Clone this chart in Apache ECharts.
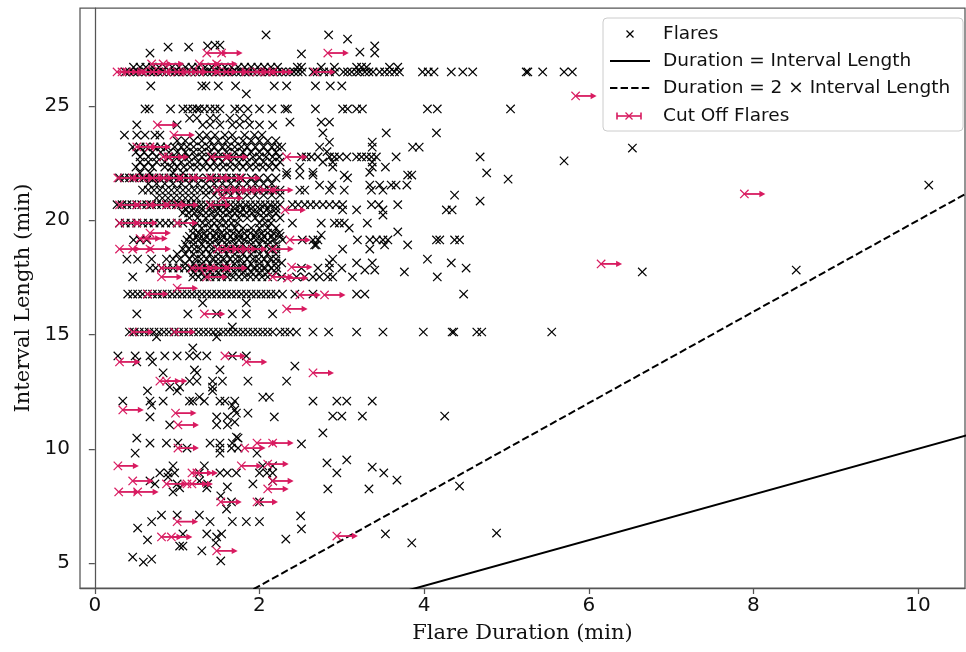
<!DOCTYPE html>
<html>
<head>
<meta charset="utf-8">
<script src="https://cdn.jsdelivr.net/npm/echarts@6/dist/echarts.min.js"></script>
<style>
html, body { margin: 0; padding: 0; background: #fff; }
#chart { width: 966px; height: 652px; }
</style>
</head>
<body>
<div id="chart"></div>
<script>
// Flare durations (min) grouped by the interval length (min) they were observed in.
const band2649 = [0.37,0.42,0.47,0.52,0.57,0.62,0.67,0.72,0.77,0.82,0.87,0.92,0.97,1.02,1.07,1.12,1.17,1.22,1.27,1.32,1.37,1.42,1.47,1.52,1.57,1.62,1.67,1.72,1.77,1.82,1.87,1.92,1.97,2.02,2.07,2.12,2.17,2.22,2.27,2.32,2.37,2.42,2.47,2.52,2.65,2.7,2.78,2.85,2.92,3.02,3.07,3.12,3.18,3.22,3.28,3.33,3.38,3.46,3.52,3.58,3.64,3.7,3.98,4.05,4.12,4.33,4.47,4.59,5.24,5.26,5.44,5.70,5.80];
const band2670 = [0.47,0.55,0.62,0.7,0.78,0.86,0.94,1.02,1.1,1.18,1.26,1.34,1.42,1.5,1.58,1.66,1.74,1.82,1.9,1.98,2.06,2.14,2.22,2.46,2.51,2.75,2.91,3.18,3.24,3.3,3.58,3.68];
const band2487 = [0.61,0.66,0.92,1.07,1.13,1.19,1.24,1.27,1.33,1.40,1.46,1.52,1.70,1.76,1.86,2.0,2.15,2.31,2.34,2.68,3.01,3.07,3.18,3.25,4.04,4.16,5.05];
const band2348 = [1.0,1.1,1.2,1.3,1.4,1.5,1.6,1.7,1.8,1.9,2.0,2.1,2.2];
const band2321 = [0.46,0.55,0.62,0.72,0.8,0.88,0.97,1.05,1.12,1.2,1.3,1.38,1.45,1.55,1.62,1.7,1.78,1.85,1.95,2.05,2.15,2.22];
const band2298 = [0.5,0.6,0.7,0.8,0.9,1.0,1.1,1.2,1.3,1.4,1.5,1.6,1.7,1.8,1.9,2.0,2.1,2.2];
const band2277 = [0.55,0.65,0.75,0.9,0.98,1.06,1.14,1.22,1.3,1.4,1.5,1.6,1.68,1.76,1.84,1.92,2.0,2.08,2.16,2.24,2.51,2.57,2.63,2.71,2.85,2.91,2.97,3.06,3.18,3.24,3.3,3.36,3.42,3.66,4.68];
const band2255 = [0.55,0.65,0.75,0.85,0.95,1.05,1.15,1.25,1.35,1.45,1.55,1.65,1.75,1.85,1.95,2.05,2.15,2.25];
const band2233 = [0.5,0.6,0.7,0.85,0.93,1.0,1.08,1.16,1.24,1.32,1.4,1.48,1.56,1.64,1.72,1.8,1.88,1.96,2.04,2.12,2.2,2.49,2.89,3.37,3.53];
const band2185 = [0.3,0.36,0.42,0.48,0.54,0.6,0.66,0.72,0.78,0.84,0.9,0.96,1.02,1.08,1.14,1.2,1.26,1.36,1.42,1.48,1.54,1.6,1.66,1.72,1.78,1.9,2.0,2.1,2.2,3.07];
const band2160 = [0.65,0.75,0.85,0.95,1.05,1.15,1.25,1.35,1.45,1.55,1.65,1.75,1.85,1.95,2.05,2.15];
const band2132 = [0.58,0.65,0.72,0.79,0.86,0.93,1.0,1.07,1.14,1.21,1.28,1.35,1.42,1.49,1.56,1.63,1.7,1.77,1.84,1.91,1.98,2.05,2.12,2.19,2.25,2.49,2.55,2.85,3.03,3.36,3.5];
const band2110 = [1.35,1.45,1.55,1.65,1.75,1.85,1.95,2.05,2.15,2.25];
const band2097 = [0.75,0.82,0.89,0.96,1.03,1.1,1.17,1.24];
const band2068 = [0.27,0.33,0.39,0.45,0.51,0.57,0.63,0.69,0.75,0.81,0.87,0.93,0.99,1.05,1.11,1.17,1.23,1.29,1.35,1.41,1.47,1.53,1.59,1.65,1.71,1.77,1.83,1.89,1.95,2.01,2.07,2.13,2.19,2.25,2.4,2.47,2.55,2.62,2.69,2.77,2.85,2.93,3.01,3.36,3.45,3.68];
const band2050 = [1.1,1.2,1.3,1.4,1.5,1.6,1.7,1.8,1.9,2.0,2.1,2.2];
const band2032 = [1.07,1.14,1.21,1.28,1.35,1.42,1.49,1.56,1.63,1.7,1.77,1.84,1.91,1.98,2.05,2.12,2.2];
const band2010 = [1.15,1.25,1.35,1.45,1.55,1.65,1.75,1.85,1.95,2.05,2.15,2.25];
const band1988 = [0.3,0.37,0.44,0.51,0.58,0.65,0.72,0.79,0.86,0.93,1.0,1.07,1.24,1.31,1.38,1.45,1.52,1.59,1.66,1.73,2.0,2.07,2.14,2.4,2.75,2.91,2.97,3.03,3.31];
const band1966 = [1.2,1.3,1.4,1.5,1.6,1.7,1.8,1.9,2.0,2.1,2.2];
const band1944 = [1.19,1.26,1.33,1.4,1.47,1.54,1.61,1.68,1.75,1.82,1.89,1.96,2.03,2.1,2.17,2.24];
const band1930 = [1.15,1.25,1.35,1.45,1.55,1.65,1.75,1.85,1.95,2.05,2.15,2.25];
const band1914 = [0.47,0.55,0.63,1.12,1.19,1.26,1.33,1.4,1.47,1.54,1.61,1.68,1.75,1.82,1.89,1.96,2.03,2.1,2.17,2.28,2.52,2.65,2.71,3.19,3.34,3.42,3.5,3.56,4.15,4.19,4.37,4.43];
const band1895 = [1.1,1.2,1.3,1.4,1.5,1.6,1.7,1.8,1.9,2.0,2.1,2.2];
const band1874 = [1.07,1.14,1.21,1.28,1.35,1.42,1.49,1.56,1.63,1.7,1.77,1.84,1.91,1.98,2.05,2.12,2.2,3.01,3.34];
const band1852 = [1.0,1.1,1.2,1.3,1.4,1.5,1.6,1.7,1.8,1.9,2.0,2.1,2.2];
const band1830 = [0.39,0.52,0.69,0.87,0.95,1.03,1.15,1.22,1.29,1.36,1.43,1.5,1.57,1.64,1.71,1.78,1.85,1.92,1.99,2.06,2.13,2.2,2.89,4.04];
const band1810 = [1.1,1.2,1.3,1.4,1.5,1.6,1.7,1.8,1.9,2.0,2.1,2.2];
const band1791 = [0.67,0.74,0.81,0.88,0.95,1.02,1.09,1.16,1.23,1.3,1.37,1.44,1.51,1.58,1.65,1.72,1.79,1.86,1.93,2.0,2.07,2.14,2.21,2.51,2.71,2.85,3.0,4.51];
const band1772 = [1.2,1.3,1.4,1.5,1.6,1.7,1.8,1.9,2.0,2.1,2.2];
const band1752 = [0.46,1.19,1.26,1.33,1.4,1.47,1.54,1.61,1.68,1.75,1.82,1.89,1.96,2.03,2.1,2.27,2.45,2.55,2.65,2.73,2.83,2.89,3.13,4.16];
const band1677 = [0.4,0.46,0.52,0.58,0.64,0.7,0.76,0.82,0.88,0.94,1.0,1.06,1.12,1.18,1.24,1.3,1.36,1.42,1.48,1.54,1.6,1.66,1.72,1.78,1.84,1.9,1.96,2.02,2.08,2.14,2.2,2.28,2.43,2.65,3.18,3.28,4.48];
const band1511 = [0.42,0.48,0.54,0.6,0.66,0.72,0.78,0.84,0.9,0.96,1.02,1.08,1.14,1.2,1.26,1.32,1.38,1.44,1.5,1.56,1.62,1.68,1.74,1.8,1.86,1.92,1.98,2.04,2.1,2.16,2.25,2.31,2.37,2.45,2.65,2.84,3.18,3.5,3.99,4.34,4.36,4.64,4.70,5.55];
const band1406 = [0.28,0.49,0.67,0.85,1.0,1.15,1.24,1.36,1.67,1.84];
const band1209 = [0.34,0.67,0.83,1.15,1.19,1.33,1.52,1.58,1.70,2.65,2.94,3.06,3.37];
const band894 = [0.79,0.89,0.97,1.27,1.52,1.61,1.72,2.0,2.09,2.16,2.94,3.51];

const bandLevels = [26.49, 26.70, 24.87, 23.48, 23.21, 22.98, 22.77, 22.55, 22.33, 21.85, 21.60, 21.32, 21.10, 20.97, 20.68, 20.50, 20.32, 20.10, 19.88, 19.66, 19.44, 19.30, 19.14, 18.95, 18.74, 18.52, 18.30, 18.10, 17.91, 17.72, 17.52, 16.77, 15.11, 14.06, 12.09, 8.94];
const bandDurations = [band2649, band2670, band2487, band2348, band2321, band2298, band2277, band2255, band2233, band2185, band2160, band2132, band2110, band2097, band2068, band2050, band2032, band2010, band1988, band1966, band1944, band1930, band1914, band1895, band1874, band1852, band1830, band1810, band1791, band1772, band1752, band1677, band1511, band1406, band1209, band894];

// Flares away from the crowded bands: [duration, interval length]
const flaresUpper = [
  [2.08,28.11],[0.89,27.58],[0.67,27.32],[1.14,27.58],[1.37,27.63],[1.46,27.67],[1.52,27.67],[2.84,28.11],[3.07,27.93],[3.40,27.63],[3.40,27.32],[2.51,27.28],[3.22,27.36],
  [0.68,25.88],[1.30,25.88],[1.35,25.88],[1.50,25.88],[1.71,25.88],[2.18,25.88],[2.33,25.88],[2.68,25.88],[2.86,25.88],[3.0,25.88],[1.84,25.53],
  [1.15,24.47],[1.24,24.47],[1.40,24.47],[1.48,24.47],[1.64,24.47],[1.76,24.47],[1.86,24.47],
  [0.51,24.17],[1.0,24.17],[1.31,24.17],[1.40,24.17],[1.52,24.17],[1.67,24.17],[1.76,24.17],[1.88,24.17],[2.0,24.17],[2.16,24.17],
  [2.37,24.3],[2.75,24.3],[2.85,24.3],
  [0.36,23.73],[0.51,23.73],[0.61,23.73],[0.73,23.73],[0.79,23.73],[1.27,23.73],[1.36,23.73],[1.46,23.73],[1.58,23.73],[1.67,23.73],[1.82,23.73],[1.94,23.73],[2.03,23.73],
  [2.77,23.82],[3.54,23.82],[4.15,23.82],[2.85,23.42],[3.37,23.42],
  [2.27,23.2],[2.73,23.2],[3.37,23.2],[3.86,23.2],[3.94,23.2],[2.82,23.0],
  [2.77,22.55],[2.89,22.55],[3.37,22.55],[5.70,22.6],[6.53,23.16],[4.76,22.07],[5.02,21.8],
  [0.55,22.07],[0.67,22.07],[0.95,22.07],[1.07,22.07],[2.33,22.1],[2.65,22.1],[3.34,22.1],
  [2.33,21.98],[2.49,21.98],[2.65,21.98],[3.03,21.98],[3.80,21.98],[3.85,21.98],
  [2.73,21.54],[2.88,21.54],[3.34,21.54],[3.46,21.54],[3.6,21.54],[3.66,21.54],[3.79,21.54],
  [4.37,21.1],[10.13,21.54],[4.68,20.84],
  [3.01,20.45],[3.18,20.45],[3.5,20.45],[3.5,20.23],[4.27,20.45],[4.34,20.45],
  [3.09,19.66],[3.68,19.49],[2.75,19.35],
  [2.67,18.92],[2.69,18.92],[3.52,18.92],[3.8,18.92],
  [2.27,18.13],[2.85,18.13],[3.18,18.13],[3.37,18.13],[4.33,18.13],
  [3.28,17.82],[3.40,17.82],[3.76,17.74],[6.65,17.74],[8.52,17.82]
];
const flaresLower = [
  [1.31,16.38],[1.84,16.38],[0.51,15.9],[1.13,15.9],[1.48,15.9],[1.67,15.9],[1.84,15.9],[2.16,15.9],
  [1.67,15.33],[0.75,14.9],[1.48,14.9],[1.19,14.41],
  [0.51,13.8],[0.70,13.8],[2.43,13.62],[1.21,13.45],[1.52,13.45],[0.83,13.32],[1.24,13.32],
  [2.33,12.96],[1.15,12.96],[1.24,12.96],[1.43,12.96],[1.55,12.96],[1.86,12.96],
  [0.91,12.7],[1.03,12.7],[1.43,12.7],[0.64,12.53],[1.0,12.53],[1.43,12.53],[1.27,12.26],[2.04,12.26],[2.12,12.26],
  [0.69,11.91],[1.67,11.91],[1.70,11.70],[1.72,11.56],[1.86,11.56],[0.67,11.39],[1.48,11.39],[1.61,11.39],[2.18,11.39],
  [2.89,11.43],[3.0,11.43],[3.25,11.43],[4.25,11.43],[1.70,11.17],[0.91,11.04],[1.48,11.04],[1.61,11.04],
  [2.77,10.69],[1.72,10.51],[0.51,10.47],[1.74,10.47],
  [0.67,10.25],[0.87,10.25],[1.01,10.25],[1.40,10.25],[1.52,10.25],[1.67,10.25],[2.51,10.21],
  [1.12,10.03],[1.52,10.03],[1.66,10.03],[1.74,10.03],[0.49,9.81],[1.52,9.81],[1.97,9.81],
  [0.95,9.25],[1.33,9.25],[2.04,9.25],[2.16,9.25],[2.82,9.38],[3.06,9.51],[3.37,9.2],
  [0.89,8.76],[0.67,8.59],[1.27,8.59],[2.16,8.59],[3.67,8.63],
  [0.73,8.46],[1.0,8.46],[1.37,8.46],[1.92,8.46],[4.43,8.37],
  [1.03,8.29],[1.36,8.29],[1.61,8.33],[2.83,8.24],[3.33,8.24],
  [0.95,8.11],[1.53,7.94],[1.66,7.67],[2.0,7.67],[1.6,7.36],
  [0.81,7.10],[1.0,7.10],[1.27,7.10],[2.5,7.06],
  [0.69,6.81],[1.40,6.81],[1.67,6.81],[1.84,6.81],[2.0,6.81],
  [0.52,6.53],[2.51,6.49],[1.07,6.27],[1.36,6.27],[1.54,6.27],[3.53,6.27],[4.88,6.31],
  [1.48,6.14],[0.64,6.01],[2.32,6.05],[3.85,5.88],[1.47,5.88],
  [1.03,5.74],[1.07,5.74],[1.30,5.53],
  [0.46,5.26],[0.59,5.04],[0.69,5.17],[1.53,5.09]
];

// Flares cut off by the end of their interval (true duration is longer)
const cutOffUpper = [
  [1.36,27.32],[1.54,27.32],[2.83,27.32],
  [0.69,26.84],[0.83,26.84],[1.27,26.84],[1.48,26.84],
  [0.27,26.49],[0.33,26.49],[0.39,26.49],[0.58,26.49],[0.70,26.49],[0.87,26.49],[1.0,26.49],[1.12,26.49],[1.27,26.49],[1.48,26.49],[1.6,26.49],[1.84,26.49],[1.97,26.49],[2.09,26.49],[2.16,26.49],[2.67,26.49],
  [5.84,25.44],[0.76,24.17],[0.96,23.73],[0.51,23.21],[0.67,23.21],
  [0.83,22.77],[0.89,22.77],[1.42,22.77],[1.61,22.77],[2.33,22.77],
  [0.28,21.85],[0.46,21.85],[0.58,21.85],[0.7,21.85],[0.83,21.85],[1.03,21.85],[1.19,21.85],[1.40,21.85],[1.55,21.85],[1.76,21.85],
  [7.89,21.15],
  [1.48,21.32],[1.6,21.32],[1.72,21.32],[1.84,21.32],[1.97,21.32],[2.16,21.32],
  [1.55,20.97],
  [0.30,20.67],[0.51,20.67],[0.67,20.67],[0.87,20.67],[1.01,20.67],[1.40,20.67],[2.31,20.45],
  [0.30,19.88],[0.51,19.88],[1.0,19.88],
  [0.67,19.44],[0.55,19.2],[0.63,19.2],[2.37,19.14],
  [0.30,18.74],[0.46,18.74],[0.67,18.74],[1.49,18.74],[1.6,18.74],[1.72,18.74],[1.84,18.74],[2.16,18.74],
  [6.15,18.09]
];
const cutOffLower = [
  [0.81,17.91],[1.18,17.91],[1.27,17.91],[1.40,17.91],[1.6,17.91],[2.39,17.95],
  [0.81,17.52],[1.36,17.52],[2.16,17.52],[2.34,17.47],
  [1.0,17.03],[0.64,16.77],[2.49,16.73],[2.79,16.73],[2.33,16.12],[1.33,15.9],
  [0.46,15.11],[0.97,15.11],[1.58,14.06],[0.30,13.8],[1.84,13.8],[2.65,13.32],
  [0.79,12.96],[0.87,12.96],[0.34,11.70],[0.98,11.56],[1.01,11.04],
  [1.97,10.25],[2.16,10.25],[1.01,10.03],[1.82,10.03],
  [0.28,9.25],[1.78,9.25],[2.1,9.33],[1.18,8.94],[1.24,8.94],
  [0.46,8.59],[2.16,8.59],[0.87,8.46],[1.12,8.46],[1.18,8.46],
  [0.29,8.11],[0.52,8.11],[2.1,8.24],[1.53,7.67],[1.97,7.67],
  [1.0,6.81],[0.81,6.14],[0.93,6.14],[2.94,6.18],[1.48,5.53]
];

// Reference lines: duration equal to / twice the interval length
const refDurations = [-1, 12];

const xTicks = [0, 2, 4, 6, 8, 10];
const yTicks = [5, 10, 15, 20, 25];

const PINK = '#d81b60';
const AXIS = '#555';

const flarePoints = bandLevels
  .flatMap((y, i) => bandDurations[i].map(x => [x, y]))
  .concat(flaresUpper, flaresLower);
const cutOffPoints = cutOffUpper.concat(cutOffLower);

function crossLines(cx, cy, s, color, w) {
  return [
    { type: 'line', shape: { x1: cx - s, y1: cy - s, x2: cx + s, y2: cy + s }, style: { stroke: color, lineWidth: w } },
    { type: 'line', shape: { x1: cx - s, y1: cy + s, x2: cx + s, y2: cy - s }, style: { stroke: color, lineWidth: w } }
  ];
}

function renderFlare(params, api) {
  const p = api.coord([api.value(0), api.value(1)]);
  return { type: 'group', children: crossLines(p[0], p[1], 4.2, '#000', 1.2) };
}

function renderCutOff(params, api) {
  const p = api.coord([api.value(0), api.value(1)]);
  const tip = p[0] + 21;
  return {
    type: 'group',
    children: [
      { type: 'line', shape: { x1: p[0], y1: p[1], x2: tip - 4, y2: p[1] }, style: { stroke: PINK, lineWidth: 1.8 } },
      { type: 'polygon', shape: { points: [[tip, p[1]], [tip - 6, p[1] - 3.2], [tip - 6, p[1] + 3.2]] }, style: { fill: PINK } }
    ].concat(crossLines(p[0], p[1], 4.2, PINK, 1.2))
  };
}

const LEG_X = 603, LEG_Y = 18;
const legendFont = '18.5px "DejaVu Sans"';
const legendRows = [34, 61, 88, 116];

const chart = echarts.init(document.getElementById('chart'), null, { renderer: 'canvas' });
chart.setOption({
  animation: false,
  backgroundColor: '#fff',
  grid: { left: 80, right: 1, top: 8, bottom: 64, show: true, borderColor: AXIS, borderWidth: 1.25, backgroundColor: 'transparent' },
  xAxis: {
    type: 'value', min: -0.18, max: 10.57,
    name: 'Flare Duration (min)', nameLocation: 'middle', nameGap: 35,
    nameTextStyle: { fontFamily: 'DejaVu Serif', fontSize: 21, color: '#111' },
    axisLine: { show: true, lineStyle: { color: AXIS, width: 1.25 } },
    axisTick: { show: true, length: 6, customValues: xTicks, lineStyle: { color: AXIS, width: 1.25 } },
    axisLabel: { customValues: xTicks, fontFamily: 'DejaVu Sans', fontSize: 20, color: '#111', margin: 8 },
    splitLine: { show: false }
  },
  yAxis: {
    type: 'value', min: 3.906, max: 29.29,
    name: 'Interval Length (min)', nameLocation: 'middle', nameGap: 45, nameRotate: 90,
    nameTextStyle: { fontFamily: 'DejaVu Serif', fontSize: 21, color: '#111' },
    axisLine: { show: true, lineStyle: { color: AXIS, width: 1.25 } },
    axisTick: { show: true, length: 6, customValues: yTicks, lineStyle: { color: AXIS, width: 1.25 } },
    axisLabel: { customValues: yTicks, fontFamily: 'DejaVu Sans', fontSize: 20, color: '#111', margin: 10 },
    splitLine: { show: false }
  },
  series: [
    {
      type: 'custom', name: 'Flares', coordinateSystem: 'cartesian2d', clip: true, silent: true,
      data: flarePoints, encode: { x: 0, y: 1 }, renderItem: renderFlare, z: 2
    },
    {
      type: 'line', name: 'Duration = Interval Length', data: refDurations.map(d => [d, d]),
      showSymbol: false, clip: true, silent: true, z: 3,
      lineStyle: { color: '#000', width: 2 }
    },
    {
      type: 'line', name: 'Duration = 2 × Interval Length', data: refDurations.map(d => [d, 2 * d]),
      showSymbol: false, clip: true, silent: true, z: 3,
      lineStyle: { color: '#000', width: 2, type: [7.4, 3.2] }
    },
    {
      type: 'custom', name: 'Cut Off Flares', coordinateSystem: 'cartesian2d', clip: true, silent: true,
      data: cutOffPoints, encode: { x: 0, y: 1 }, renderItem: renderCutOff, z: 4
    }
  ],
  graphic: [
    {
      type: 'group', z: 100,
      children: [
        { type: 'rect', shape: { x: LEG_X, y: LEG_Y, width: 360, height: 113, r: 4 }, style: { fill: 'rgba(255,255,255,0.85)', stroke: '#cccccc', lineWidth: 1 } },
        { type: 'line', shape: { x1: 626.5, y1: legendRows[0] - 3.5, x2: 633.5, y2: legendRows[0] + 3.5 }, style: { stroke: '#000', lineWidth: 1.2 } },
        { type: 'line', shape: { x1: 626.5, y1: legendRows[0] + 3.5, x2: 633.5, y2: legendRows[0] - 3.5 }, style: { stroke: '#000', lineWidth: 1.2 } },
        { type: 'line', shape: { x1: 610, y1: legendRows[1], x2: 650, y2: legendRows[1] }, style: { stroke: '#000', lineWidth: 2 } },
        { type: 'line', shape: { x1: 610, y1: legendRows[2], x2: 650, y2: legendRows[2] }, style: { stroke: '#000', lineWidth: 2, lineDash: [7.4, 3.2] } },
        { type: 'line', shape: { x1: 617, y1: legendRows[3], x2: 641, y2: legendRows[3] }, style: { stroke: PINK, lineWidth: 1.6 } },
        { type: 'line', shape: { x1: 617, y1: legendRows[3] - 3.5, x2: 617, y2: legendRows[3] + 3.5 }, style: { stroke: PINK, lineWidth: 1.6 } },
        { type: 'line', shape: { x1: 641, y1: legendRows[3] - 3.5, x2: 641, y2: legendRows[3] + 3.5 }, style: { stroke: PINK, lineWidth: 1.6 } },
        { type: 'line', shape: { x1: 625.5, y1: legendRows[3] - 3.5, x2: 632.5, y2: legendRows[3] + 3.5 }, style: { stroke: PINK, lineWidth: 1.2 } },
        { type: 'line', shape: { x1: 625.5, y1: legendRows[3] + 3.5, x2: 632.5, y2: legendRows[3] - 3.5 }, style: { stroke: PINK, lineWidth: 1.2 } },
        { type: 'text', style: { x: 663, y: legendRows[0], text: 'Flares', font: legendFont, fill: '#111', verticalAlign: 'middle' } },
        { type: 'text', style: { x: 663, y: legendRows[1], text: 'Duration = Interval Length', font: legendFont, fill: '#111', verticalAlign: 'middle' } },
        { type: 'text', style: { x: 663, y: legendRows[2], text: 'Duration = 2 × Interval Length', font: legendFont, fill: '#111', verticalAlign: 'middle' } },
        { type: 'text', style: { x: 663, y: legendRows[3], text: 'Cut Off Flares', font: legendFont, fill: '#111', verticalAlign: 'middle' } }
      ]
    }
  ]
});
</script>
</body>
</html>
